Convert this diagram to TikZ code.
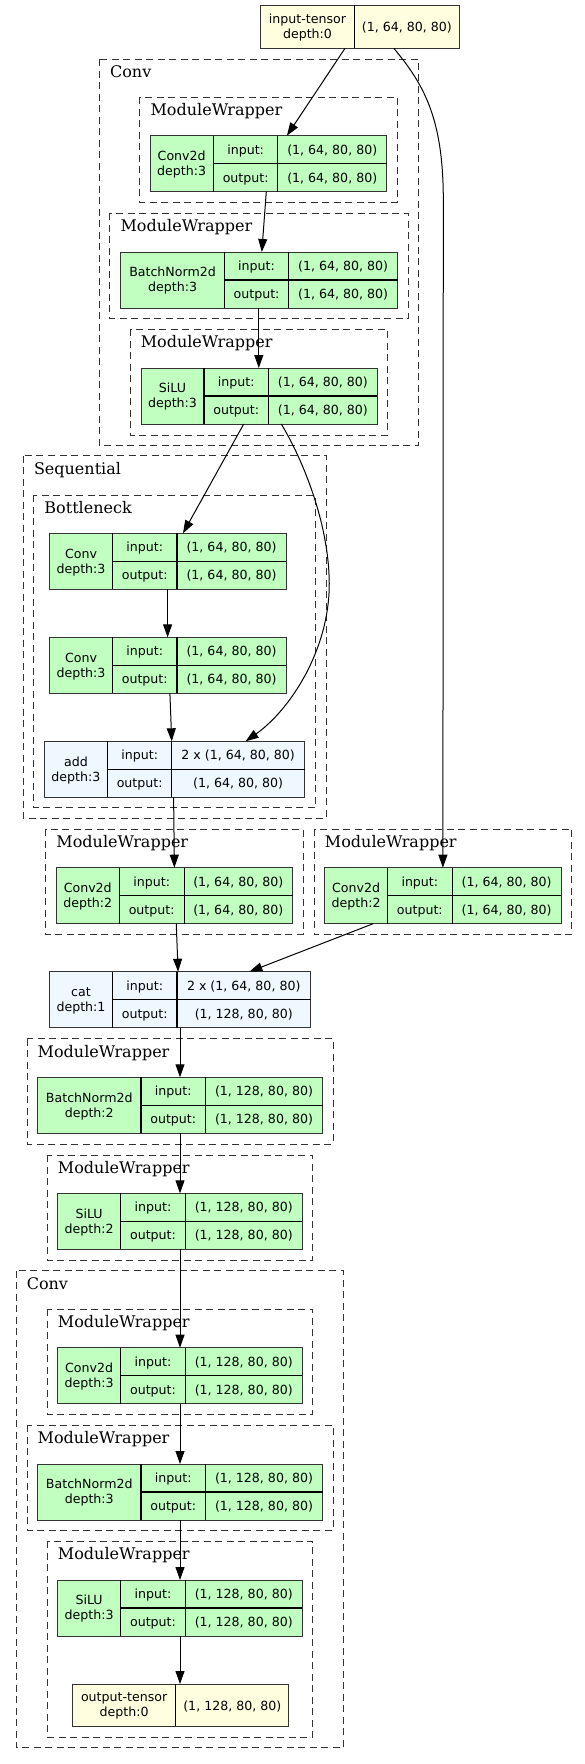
\documentclass[tikz,border=0pt]{standalone}
\usepackage{fontspec}
\newfontfamily\nfont{DejaVu Sans}
\newfontfamily\cfont{DejaVu Serif}
\usetikzlibrary{arrows.meta,calc}
\definecolor{lgreen}{HTML}{C1FFC1}
\definecolor{lyellow}{HTML}{FFFFE0}
\definecolor{lblue}{HTML}{F0F8FF}
\definecolor{bord}{HTML}{333333}
\tikzset{
 cell/.style={draw=bord, line width=1pt, inner sep=0pt, outer sep=0pt, anchor=north west},
 txt/.style={inner sep=0pt, font=\nfont\fontsize{12.6}{15}\selectfont, align=center},
 clust/.style={draw=bord, line width=0.9pt, dash pattern=on 7pt off 4.5pt},
 clab/.style={inner sep=0pt, anchor=base west, font=\cfont\fontsize{16}{19}\selectfont},
 edge/.style={draw=black, line width=1pt, -{Triangle[length=13pt,width=9pt]}},
 divl/.style={draw=black, line width=1.1pt},
}
% name xl xr d1 d2 yt fill label
\newcommand\layer[8]{%
 \def\LN{#1}\def\LXR{#3}\def\LDA{#4}\def\LDB{#5}\def\LYT{#6}%
 \node[cell, fill=#7, minimum width={(#3-#2)*1pt}, minimum height=56pt] (#1) at (#2,#6) {};
 \draw[divl] (#4,#6) -- (#4,{#6+56});
 \draw[divl] (#5,#6) -- (#5,{#6+56});
 \draw[divl] (#4,{#6+28}) -- (#3,{#6+28});
 \node[txt, anchor=center] (#1-n) at ({(#2+#4)/2},{#6+29}) {#8};
}
\newcommand\rows[2]{%
 \node[txt, anchor=base] (\LN-i) at ({(\LDA+\LDB)/2},{\LYT+18.5}) {input:};
 \node[txt, anchor=base] (\LN-o) at ({(\LDA+\LDB)/2},{\LYT+46.5}) {output:};
 \node[txt, anchor=base] (\LN-iv) at ({(\LDB+\LXR)/2},{\LYT+18.5}) {#1};
 \node[txt, anchor=base] (\LN-ov) at ({(\LDB+\LXR)/2},{\LYT+46.5}) {#2};
}
% name xl xr d yt h label value
\newcommand\tensor[8]{%
 \node[cell, fill=lyellow, minimum width={(#3-#2)*1pt}, minimum height=#6pt] (#1) at (#2,#5) {};
 \draw[divl] (#4,#5) -- (#4,{#5+#6});
 \node[txt, anchor=center] (#1-n) at ({(#2+#4)/2},{#5+#6/2+1}) {#7};
 \node[txt, anchor=center] (#1-v) at ({(#4+#3)/2},{#5+#6/2+1}) {#8};
}
% name xl xr yt yb label
\newcommand\clus[6]{%
 \draw[clust] (#2,#4) rectangle (#3,#5);
 \node[clab] (#1) at ({#2+10.5},{#4+18.3}) {#6};
}
\begin{document}
\begin{tikzpicture}[x=1pt,y=-1pt]
\useasboundingbox (0,0) rectangle (584,1764);
\fill[white] (0,0) rectangle (584,1764);

% clusters
\clus{cConvA}{99.4}{418.9}{59}{445}{Conv}
\clus{cMW1}{139.9}{397.5}{97.3}{202.3}{ModuleWrapper}
\clus{cMW2}{109.9}{408}{213.3}{318.7}{ModuleWrapper}
\clus{cMW3}{130.1}{387.4}{329.3}{435}{ModuleWrapper}
\clus{cSeq}{23.3}{326.3}{455.7}{818.3}{Sequential}
\clus{cBott}{33.75}{315}{495}{807.7}{Bottleneck}
\clus{cMWL}{45.75}{303}{829}{934.3}{ModuleWrapper}
\clus{cMWR}{314.25}{571.9}{829}{934.3}{ModuleWrapper}
\clus{cMWBN2}{27}{333}{1038.7}{1144}{ModuleWrapper}
\clus{cMWS2}{47.25}{312.75}{1155}{1260}{ModuleWrapper}
\clus{cConvB}{16.1}{343.1}{1270.7}{1747.7}{Conv}
\clus{cMWC3}{47.25}{312.75}{1309.3}{1414.3}{ModuleWrapper}
\clus{cMWBN3}{27}{333}{1425.3}{1530.3}{ModuleWrapper}
\clus{cMWS3}{47.25}{312.75}{1541.3}{1737}{ModuleWrapper}

% nodes
\tensor{intensor}{260.6}{459.4}{354.4}{5}{43.3}{input-tensor\\depth:0}{(1, 64, 80, 80)}
\layer{conv2dA}{150}{386.6}{213.4}{277.9}{135.7}{lgreen}{Conv2d\\depth:3}
\rows{(1, 64, 80, 80)}{(1, 64, 80, 80)}
\layer{bnA}{120.8}{397.5}{224.3}{288.8}{252}{lgreen}{BatchNorm2d\\depth:3}
\rows{(1, 64, 80, 80)}{(1, 64, 80, 80)}
\layer{siluA}{141}{377.3}{204}{268.5}{368}{lgreen}{SiLU\\depth:3}
\rows{(1, 64, 80, 80)}{(1, 64, 80, 80)}
\layer{convA}{49.5}{286.1}{112.5}{177}{533.3}{lgreen}{Conv\\depth:3}
\rows{(1, 64, 80, 80)}{(1, 64, 80, 80)}
\layer{convB}{49.5}{286.1}{112.5}{177}{637.3}{lgreen}{Conv\\depth:3}
\rows{(1, 64, 80, 80)}{(1, 64, 80, 80)}
\layer{add}{44.25}{304.5}{107.6}{171.75}{741.3}{lblue}{add\\depth:3}
\rows{2 x (1, 64, 80, 80)}{(1, 64, 80, 80)}
\layer{conv2dL}{56.25}{292.5}{119.25}{184.1}{867.7}{lgreen}{Conv2d\\depth:2}
\rows{(1, 64, 80, 80)}{(1, 64, 80, 80)}
\layer{conv2dR}{324.75}{561}{387.4}{452.25}{867.7}{lgreen}{Conv2d\\depth:2}
\rows{(1, 64, 80, 80)}{(1, 64, 80, 80)}
\layer{cat}{49.5}{310.5}{112.5}{177}{971.7}{lblue}{cat\\depth:1}
\rows{2 x (1, 64, 80, 80)}{(1, 128, 80, 80)}
\layer{bnB}{37.5}{322.5}{141}{205.5}{1077.3}{lgreen}{BatchNorm2d\\depth:2}
\rows{(1, 128, 80, 80)}{(1, 128, 80, 80)}
\layer{siluB}{57.4}{302.25}{120.75}{185.25}{1193.3}{lgreen}{SiLU\\depth:2}
\rows{(1, 128, 80, 80)}{(1, 128, 80, 80)}
\layer{conv2dC}{57.4}{302.25}{120.75}{185.25}{1347.7}{lgreen}{Conv2d\\depth:3}
\rows{(1, 128, 80, 80)}{(1, 128, 80, 80)}
\layer{bnC}{37.5}{322.5}{141}{205.5}{1464}{lgreen}{BatchNorm2d\\depth:3}
\rows{(1, 128, 80, 80)}{(1, 128, 80, 80)}
\layer{siluC}{57.4}{302.25}{120.75}{185.25}{1580}{lgreen}{SiLU\\depth:3}
\rows{(1, 128, 80, 80)}{(1, 128, 80, 80)}
\tensor{outtensor}{72.4}{288.75}{175.9}{1684}{42.3}{output-tensor\\depth:0}{(1, 128, 80, 80)}

% edges
\coordinate (bend1) at (329.25,583.3);
\coordinate (bend2) at (443.3,200);
\draw[edge] ([xshift=84.4pt]intensor.south west) -- ([xshift=136.9pt]conv2dA.north west);
\draw[edge] ([xshift=116.3pt]conv2dA.south west) -- ([xshift=141pt]bnA.north west);
\draw[edge] ([xshift=138pt]bnA.south west) -- ([xshift=117.8pt]siluA.north west);
\draw[edge] ([xshift=102.75pt]siluA.south west) -- ([xshift=133.5pt]convA.north west);
\draw[edge] ([xshift=140.25pt]siluA.south west) .. controls +(19,31) and +(-0.3,-63) .. (bend1)
  .. controls +(0.3,67) and +(44,-31) .. ([xshift=201.35pt]add.north west);
\draw[edge] ([xshift=118.1pt]convA.south west) -- ([xshift=118.1pt]convB.north west);
\draw[edge] ([xshift=120.4pt]convB.south west) -- ([xshift=127.5pt]add.north west);
\draw[edge] ([xshift=129.35pt]add.south west) -- ([xshift=118.15pt]conv2dL.north west);
\draw[edge] ([xshift=133.2pt]intensor.south west) .. controls +(31,37) and +(0,-80) .. (bend2)
  -- ([xshift=118.15pt]conv2dR.north west);
\draw[edge] ([xshift=120pt]conv2dL.south west) -- ([xshift=128.6pt]cat.north west);
\draw[edge] ([xshift=48.35pt]conv2dR.south west) -- ([xshift=199.9pt]cat.north west);
\draw[edge] ([xshift=130.5pt]cat.south west) -- ([xshift=142.5pt]bnB.north west);
\draw[edge] ([xshift=142.5pt]bnB.south west) -- ([xshift=122.6pt]siluB.north west);
\draw[edge] ([xshift=122.6pt]siluB.south west) -- ([xshift=122.6pt]conv2dC.north west);
\draw[edge] ([xshift=122.6pt]conv2dC.south west) -- ([xshift=142.5pt]bnC.north west);
\draw[edge] ([xshift=142.5pt]bnC.south west) -- ([xshift=122.6pt]siluC.north west);
\draw[edge] ([xshift=122.6pt]siluC.south west) -- ([xshift=107.6pt]outtensor.north west);
\end{tikzpicture}
\end{document}
